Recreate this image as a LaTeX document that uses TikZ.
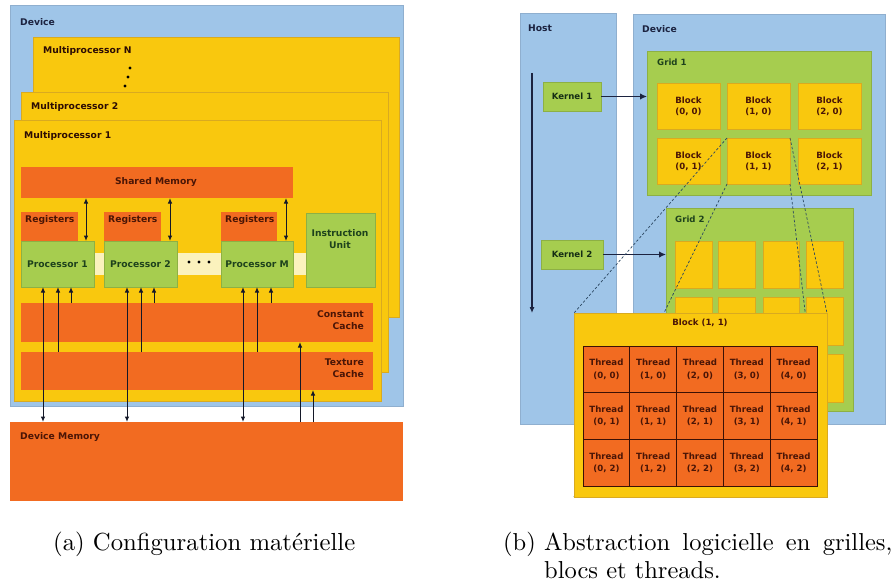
\documentclass[tikz,border=0pt]{standalone}
\usepackage{fontspec}
\newfontfamily\dv{DejaVu Sans}
\usetikzlibrary{fit,arrows.meta}
\definecolor{cblue}{HTML}{9FC5E8}
\definecolor{cblueb}{HTML}{8FAFCF}
\definecolor{cyel}{HTML}{F9C80E}
\definecolor{cyelb}{HTML}{D9AA20}
\definecolor{corg}{HTML}{F26B21}
\definecolor{cgrn}{HTML}{A6CD4F}
\definecolor{cgrnb}{HTML}{8DB044}
\definecolor{cpale}{HTML}{FBF2BD}
\definecolor{tnavy}{HTML}{1C2340}
\definecolor{tbrown}{HTML}{4A1506}
\definecolor{tgreen}{HTML}{1E421C}
\definecolor{arr}{HTML}{141828}
\definecolor{dsh}{HTML}{2A4660}
\tikzset{
  R/.style={inner sep=0pt, outer sep=0pt, line width=0.4pt},
  bluebox/.style={R, fill=cblue, draw=cblueb},
  yelbox/.style={R, fill=cyel, draw=cyelb},
  orgbox/.style={R, fill=corg},
  grnbox/.style={R, fill=cgrn, draw=cgrnb},
  thr/.style={R, fill=corg, draw=tbrown!80!black, line width=0.8pt,
    minimum width=46.8pt, minimum height=46.67pt, anchor=north west,
    align=center, font=\dv\bfseries\fontsize{8.6}{12.6}\selectfont, text=tbrown},
  lt/.style={inner sep=0pt, font=\dv\bfseries\fontsize{9.2}{12}\selectfont},
  rt/.style={inner sep=0pt, font=\dv\bfseries\fontsize{8.6}{11}\selectfont},
  dbl/.style={line width=1pt, draw=arr, {Latex[length=5.5pt,width=4.5pt]}-{Latex[length=5.5pt,width=4.5pt]}},
  sgl/.style={line width=1pt, draw=arr, -{Latex[length=5.5pt,width=4.5pt]}},
  thick arrow/.style={line width=1.6pt, draw=tnavy, -{Latex[length=7pt,width=6.5pt]}},
  dashline/.style={draw=dsh, line width=0.7pt, dash pattern=on 2.5pt off 2pt},
  captxt/.style={inner sep=0pt, anchor=base west}
}
\begin{document}
\begin{tikzpicture}[x=1pt,y=-1pt]
\useasboundingbox (0,0) rectangle (894,583);
\fill[white] (0,0) rectangle (894,583);
% ================= left panel =================
\node[fit={(10,5)(403,406)}, bluebox] (dev) {};
\node[lt, anchor=west, text=tnavy] (devl) at (20,22) {Device};
\node[fit={(33,37)(399,317)}, yelbox] (mpN) {};
\node[lt, anchor=west, text=tbrown!60!black] (mpNl) at (43,51) {Multiprocessor N};
\fill[black] (130,68) circle (1.7) (128,77) circle (1.7) (125,86) circle (1.7);
\node[fit={(21,92)(388,372)}, yelbox] (mp2) {};
\node[lt, anchor=west, text=tbrown!60!black] (mp2l) at (31,107) {Multiprocessor 2};
\node[fit={(14,120)(381,401)}, yelbox] (mp1) {};
\node[lt, anchor=west, text=tbrown!60!black] (mp1l) at (24,136) {Multiprocessor 1};
\node[fit={(21,167)(293,198)}, orgbox] (sm) {};
\node[lt, text=tbrown] (sml) at (156,182) {Shared Memory};
\node[fit={(94,253)(306,275)}, R, fill=cpale] (strip) {};
\node[fit={(21,212)(78,241)}, orgbox] (r1) {};
\node[fit={(104,212)(161,241)}, orgbox] (r2) {};
\node[fit={(221,212)(277,241)}, orgbox] (r3) {};
\node[lt, anchor=west, text=tbrown] (r1l) at (25,220) {Registers};
\node[lt, anchor=west, text=tbrown] (r2l) at (108,220) {Registers};
\node[lt, anchor=west, text=tbrown] (r3l) at (225,220) {Registers};
\node[fit={(21,241)(94,287)}, grnbox] (p1) {};
\node[fit={(104,241)(177,287)}, grnbox] (p2) {};
\node[fit={(221,241)(293,287)}, grnbox] (pm) {};
\node[lt, text=tgreen] (p1l) at (p1.center) {Processor 1};
\node[lt, text=tgreen] (p2l) at (p2.center) {Processor 2};
\node[lt, text=tgreen] (pml) at (pm.center) {Processor M};
\fill[black] (189,262) circle (1.6) (199,262) circle (1.6) (209,262) circle (1.6);
\node[fit={(306,213)(375,287)}, grnbox] (iu) {};
\node[lt, text=tgreen, align=center] (iul) at (340,239) {Instruction\\Unit};
\node[fit={(21,303)(373,342)}, orgbox] (cc) {};
\node[lt, text=tbrown, align=right, anchor=east] (ccl) at (364,320) {Constant\\Cache};
\node[fit={(21,352)(373,390)}, orgbox] (tc) {};
\node[lt, text=tbrown, align=right, anchor=east] (tcl) at (364,368) {Texture\\Cache};
\node[fit={(10,422)(403,501)}, orgbox] (dm) {};
\node[lt, anchor=west, text=tbrown] (dml) at (20,437) {Device Memory};
% arrows
\draw[dbl] (86,0 |- sm.south) -- (86,0 |- p1.north);
\draw[dbl] (170,0 |- sm.south) -- (170,0 |- p2.north);
\draw[dbl] (286,0 |- sm.south) -- (286,0 |- pm.north);
\draw[dbl] (43,0 |- p1.south) -- (43,0 |- dm.north);
\draw[dbl] (127,0 |- p2.south) -- (127,0 |- dm.north);
\draw[dbl] (243,0 |- pm.south) -- (243,0 |- dm.north);
\draw[sgl] (58,0 |- tc.north) -- (58,0 |- p1.south);
\draw[sgl] (141,0 |- tc.north) -- (141,0 |- p2.south);
\draw[sgl] (257,0 |- tc.north) -- (257,0 |- pm.south);
\draw[sgl] (71,0 |- cc.north) -- (71,0 |- p1.south);
\draw[sgl] (154,0 |- cc.north) -- (154,0 |- p2.south);
\draw[sgl] (271,0 |- cc.north) -- (271,0 |- pm.south);
\draw[sgl] (300,0 |- dm.north) -- (300,0 |- cc.south);
\draw[sgl] (313,0 |- dm.north) -- (313,0 |- tc.south);
% ================= right panel =================
\node[fit={(520,13)(616,424)}, bluebox] (host) {};
\node[lt, anchor=west, text=tnavy] (hostl) at (528,28) {Host};
\node[fit={(633,14)(885,424)}, bluebox] (dev2) {};
\node[lt, anchor=west, text=tnavy] (dev2l) at (642,29) {Device};
\coordinate (tA) at (532,73);
\coordinate (tB) at (532,313);
\draw[line width=1.1pt, draw=tnavy, -{Latex[length=6pt,width=5pt]}] (tA) -- (tB);
% grid 1
\node[fit={(647,51)(871,195)}, grnbox] (g1) {};
\node[rt, anchor=west, text=tgreen] (g1l) at (657,62) {Grid 1};
\foreach \c/\xa/\xb in {0/657/720, 1/727/790, 2/798/861}{
  \foreach \r/\ya/\yb in {0/83/129, 1/138/184}{
    \node[fit={(\xa,\ya)(\xb,\yb)}, yelbox] (b\c\r) {};
    \node[rt, text=tbrown, align=center] (b\c\r l) at (b\c\r.center) {Block\\(\c, \r)};
  }
}
\node[fit={(543,82)(601,111)}, grnbox] (k1) {};
\node[rt, text=tgreen!70!black] (k1l) at (k1.center) {Kernel 1};
\draw[thick arrow] (k1.east) -- (k1.east -| g1.west);
% grid 2
\node[fit={(666,208)(853,411)}, grnbox] (g2) {};
\node[rt, anchor=west, text=tgreen] (g2l) at (675,219) {Grid 2};
\foreach \c/\xa/\xb in {0/675/712, 1/718/755, 2/763/799, 3/806/843}{
  \foreach \r/\ya/\yb in {0/241/288, 1/297/345, 2/354/402}{
    \node[fit={(\xa,\ya)(\xb,\yb)}, yelbox] (c\c\r) {};
  }
}
\node[fit={(541,240)(603,269)}, grnbox] (k2) {};
\node[rt, text=tgreen!70!black] (k2l) at (k2.center) {Kernel 2};
\draw[thick arrow] (k2.east) -- (k2.east -| g2.west);
% expanded block
\coordinate (ovTL) at (574,313);
\coordinate (ovTR) at (827,313);
\coordinate (ovBL) at (574,497);
\coordinate (ovBR) at (827,497);
\draw[dashline] (b11.north west) -- (ovTL);
\draw[dashline] (b11.south west) -- (ovBL);
\draw[dashline] (b11.north east) -- (ovTR);
\draw[dashline] (b11.south east) -- (ovBR);
\node[fit={(ovTL)(ovBR)}, yelbox] (ov) {};
\node[rt, text=tbrown] (ovl) at (700,323) {Block (1, 1)};
\foreach \i in {0,...,4}{
  \foreach \j in {0,...,2}{
    \node[thr] (t\i\j) at ({583+46.8*\i},{346+46.67*\j}) {Thread\\(\i, \j)};
  }
}
% ================= captions =================
\node[captxt] (capa) at (53,550) {\scalebox{2.47}{(a) Configuration matérielle}};
\node[captxt] (capb) at (503,550) {\scalebox{2.45}{(b) \makebox[142.2pt][s]{Abstraction logicielle en grilles,}}};
\node[captxt] (capb2) at (544,578) {\scalebox{2.45}{blocs et threads.}};
\end{tikzpicture}
\end{document}
